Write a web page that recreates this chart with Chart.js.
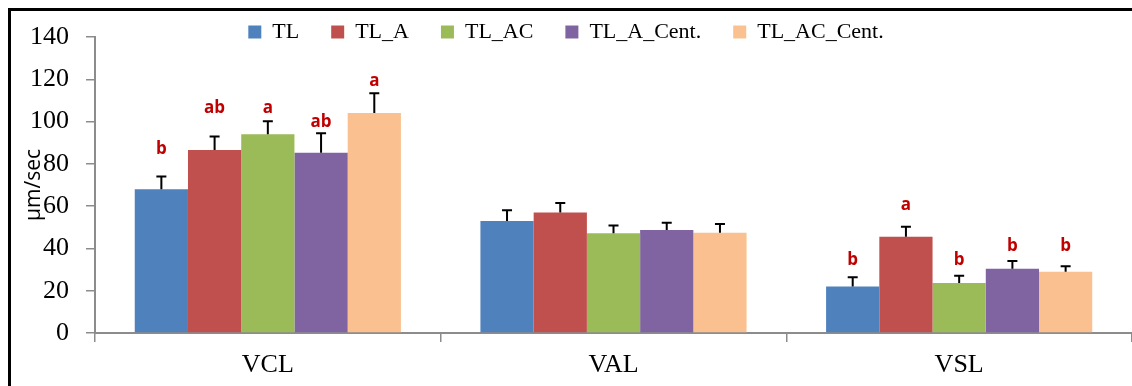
<!DOCTYPE html>
<html>
<head>
<meta charset="utf-8">
<script src="https://cdn.jsdelivr.net/npm/chart.js@4/dist/chart.umd.min.js"></script>
<style>
  html, body { margin: 0; padding: 0; background: #fff; overflow: hidden; }
</style>
</head>
<body>
<canvas id="chart" width="1132" height="386"></canvas>
<script>
// categories and series (µm/sec)
const categories = ['VCL', 'VAL', 'VSL'];
const seriesNames = ['TL', 'TL_A', 'TL_AC', 'TL_A_Cent.', 'TL_AC_Cent.'];

const tl        = [68, 53, 22];
const tlA       = [86.5, 57, 45.5];
const tlAC      = [94, 47.2, 23.6];
const tlACent   = [85.3, 48.7, 30.4];
const tlACCent  = [104, 47.4, 29];

// erreurs (barre du haut seulement)
const tlErr       = [6, 5, 4.4];
const tlAErr      = [6.4, 4.5, 4.7];
const tlACErr     = [6.2, 3.6, 3.5];
const tlACentErr  = [9.2, 3.5, 3.6];
const tlACCentErr = [9.4, 4.2, 2.6];

// lettres de significativité et hauteur (en unités de l'axe)
const tlLetters       = ['b', '', 'b'];
const tlALetters      = ['ab', '', 'a'];
const tlACLetters     = ['a', '', 'b'];
const tlACentLetters  = ['ab', '', 'b'];
const tlACCentLetters = ['a', '', 'b'];

const tlLetterAt       = [87, null, 34.5];
const tlALetterAt      = [106.4, null, 60.5];
const tlACLetterAt     = [106.4, null, 34.5];
const tlACentLetterAt  = [99.8, null, 41.2];
const tlACCentLetterAt = [119.2, null, 41.2];

const yTicks = [0, 20, 40, 60, 80, 100, 120, 140];

const colors = ['#4F81BD', '#C0504D', '#9BBB59', '#8064A2', '#FAC090'];
const values = [tl, tlA, tlAC, tlACent, tlACCent];
const errors = [tlErr, tlAErr, tlACErr, tlACentErr, tlACCentErr];
const letters = [tlLetters, tlALetters, tlACLetters, tlACentLetters, tlACCentLetters];
const letterAt = [tlLetterAt, tlALetterAt, tlACLetterAt, tlACentLetterAt, tlACCentLetterAt];

// === plugin : cadre noir (haut + gauche) + légende non coupée ===
const framePlugin = {
  id: 'frame',
  afterLayout(chart) {
    // la légende chevauche le haut du graphique : on agrandit sa zone de dessin
    chart.legend.bottom += 14;
    chart.legend.height += 14;
  },
  afterDraw(chart) {
    const ctx = chart.ctx;
    ctx.save();
    ctx.fillStyle = '#000';
    ctx.fillRect(8, 8, chart.width, 3);
    ctx.fillRect(8, 8, 3, chart.height);
    ctx.restore();
  }
};

// === plugin : barres d'erreur + lettres ===
const errorBarsPlugin = {
  id: 'errorBars',
  afterDatasetsDraw(chart) {
    const ctx = chart.ctx;
    const y = chart.scales.y;
    ctx.save();
    chart.data.datasets.forEach((ds, di) => {
      const meta = chart.getDatasetMeta(di);
      meta.data.forEach((bar, i) => {
        const top = y.getPixelForValue(values[di][i] + errors[di][i]);
        ctx.strokeStyle = '#000';
        ctx.lineWidth = 2;
        ctx.beginPath();
        ctx.moveTo(bar.x, bar.y);
        ctx.lineTo(bar.x, top);
        ctx.moveTo(bar.x - 5, top);
        ctx.lineTo(bar.x + 5, top);
        ctx.stroke();

        const txt = letters[di][i];
        if (txt) {
          ctx.fillStyle = '#C00000';
          ctx.font = 'bold 17px "Open Sans", sans-serif';
          ctx.textAlign = 'center';
          ctx.textBaseline = 'middle';
          ctx.fillText(txt, bar.x, y.getPixelForValue(letterAt[di][i]));
        }
      });
    });
    ctx.restore();
  }
};

new Chart(document.getElementById('chart'), {
  type: 'bar',
  data: {
    labels: categories,
    datasets: seriesNames.map((name, i) => ({
      label: name,
      data: values[i],
      backgroundColor: colors[i],
      borderWidth: 0,
      barPercentage: 1,
      categoryPercentage: 0.77
    }))
  },
  options: {
    responsive: false,
    animation: false,
    devicePixelRatio: 1,
    layout: { padding: { top: -11, left: 0, right: 0, bottom: 0 } },
    plugins: {
      legend: {
        position: 'top',
        maxHeight: 48,
        labels: {
          boxWidth: 13,
          boxHeight: 13,
          padding: 32,
          color: '#000',
          font: { family: '"Liberation Serif", serif', size: 22 }
        }
      },
      tooltip: { enabled: false }
    },
    scales: {
      x: {
        grid: {
          offset: true,
          drawOnChartArea: false,
          drawTicks: true,
          tickLength: 9,
          color: '#8c8c8c',
          lineWidth: 1.5
        },
        border: { color: '#8c8c8c', width: 2 },
        ticks: {
          color: '#000',
          padding: 8,
          font: { family: '"Liberation Serif", serif', size: 26 }
        },
        afterFit(scale) { scale.height = 53; }
      },
      y: {
        min: 0,
        max: 140,
        afterBuildTicks(scale) { scale.ticks = yTicks.map(v => ({ value: v })); },
        grid: {
          drawOnChartArea: false,
          drawTicks: true,
          tickLength: 9,
          color: '#8c8c8c',
          lineWidth: 1.5
        },
        border: { color: '#8c8c8c', width: 2 },
        ticks: {
          color: '#000',
          padding: 17,
          font: { family: '"Liberation Serif", serif', size: 26 }
        },
        title: {
          display: true,
          text: 'µm/sec',
          color: '#000',
          padding: { top: 21, bottom: 0 },
          font: { family: '"Open Sans", sans-serif', size: 21 }
        },
        afterFit(scale) { scale.width = 95; }
      }
    }
  },
  plugins: [errorBarsPlugin, framePlugin]
});
</script>
</body>
</html>
